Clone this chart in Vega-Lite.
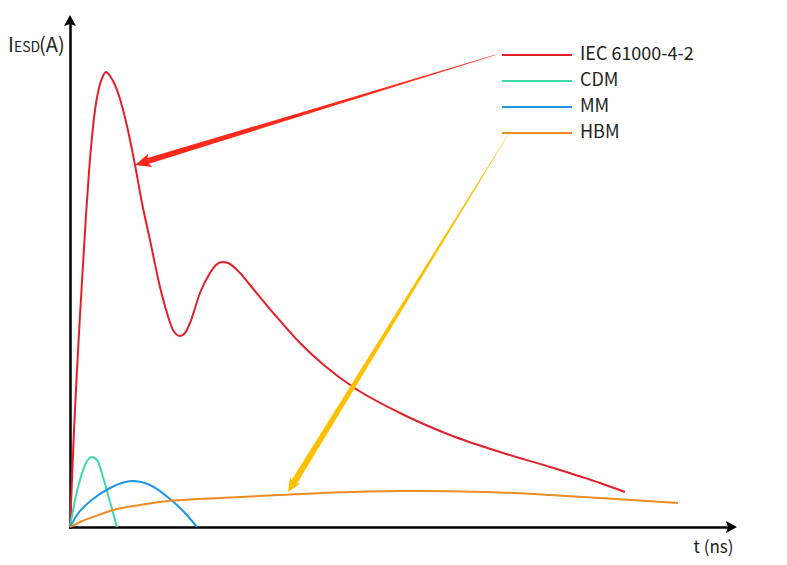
{
  "$schema": "https://vega.github.io/schema/vega-lite/v6.json",
  "width": 660,
  "height": 505,
  "autosize": {"type": "none"},
  "padding": {"left": 70, "top": 22, "right": 57, "bottom": 38},
  "background": "white",
  "config": {"view": {"stroke": null}, "font": "Noto Sans CJK SC"},
  "datasets": {
    "curves": [
      {"series": "IEC 61000-4-2", "t": 0, "i": 0},
      {"series": "IEC 61000-4-2", "t": 2, "i": 47},
      {"series": "IEC 61000-4-2", "t": 4, "i": 97},
      {"series": "IEC 61000-4-2", "t": 7, "i": 157},
      {"series": "IEC 61000-4-2", "t": 10, "i": 212},
      {"series": "IEC 61000-4-2", "t": 13, "i": 262},
      {"series": "IEC 61000-4-2", "t": 16, "i": 312},
      {"series": "IEC 61000-4-2", "t": 19, "i": 355},
      {"series": "IEC 61000-4-2", "t": 22, "i": 390},
      {"series": "IEC 61000-4-2", "t": 25, "i": 417},
      {"series": "IEC 61000-4-2", "t": 29, "i": 439},
      {"series": "IEC 61000-4-2", "t": 33, "i": 451},
      {"series": "IEC 61000-4-2", "t": 36, "i": 455},
      {"series": "IEC 61000-4-2", "t": 40, "i": 451},
      {"series": "IEC 61000-4-2", "t": 45, "i": 442},
      {"series": "IEC 61000-4-2", "t": 50, "i": 428},
      {"series": "IEC 61000-4-2", "t": 57, "i": 401},
      {"series": "IEC 61000-4-2", "t": 65, "i": 362},
      {"series": "IEC 61000-4-2", "t": 72, "i": 324},
      {"series": "IEC 61000-4-2", "t": 80, "i": 287},
      {"series": "IEC 61000-4-2", "t": 90, "i": 240},
      {"series": "IEC 61000-4-2", "t": 97, "i": 214},
      {"series": "IEC 61000-4-2", "t": 103, "i": 197},
      {"series": "IEC 61000-4-2", "t": 110, "i": 191},
      {"series": "IEC 61000-4-2", "t": 115, "i": 194},
      {"series": "IEC 61000-4-2", "t": 120, "i": 204},
      {"series": "IEC 61000-4-2", "t": 130, "i": 234},
      {"series": "IEC 61000-4-2", "t": 140, "i": 254},
      {"series": "IEC 61000-4-2", "t": 146, "i": 262},
      {"series": "IEC 61000-4-2", "t": 152, "i": 265},
      {"series": "IEC 61000-4-2", "t": 158, "i": 264},
      {"series": "IEC 61000-4-2", "t": 170, "i": 254},
      {"series": "IEC 61000-4-2", "t": 180, "i": 242},
      {"series": "IEC 61000-4-2", "t": 205, "i": 212},
      {"series": "IEC 61000-4-2", "t": 230, "i": 184},
      {"series": "IEC 61000-4-2", "t": 255, "i": 161},
      {"series": "IEC 61000-4-2", "t": 283, "i": 140},
      {"series": "IEC 61000-4-2", "t": 330, "i": 114},
      {"series": "IEC 61000-4-2", "t": 380, "i": 92},
      {"series": "IEC 61000-4-2", "t": 430, "i": 75},
      {"series": "IEC 61000-4-2", "t": 480, "i": 60},
      {"series": "IEC 61000-4-2", "t": 530, "i": 44},
      {"series": "IEC 61000-4-2", "t": 555, "i": 35},
      {"series": "CDM", "t": 0, "i": 0},
      {"series": "CDM", "t": 5, "i": 27},
      {"series": "CDM", "t": 10, "i": 47},
      {"series": "CDM", "t": 15, "i": 62},
      {"series": "CDM", "t": 22, "i": 70},
      {"series": "CDM", "t": 27, "i": 67},
      {"series": "CDM", "t": 33, "i": 50},
      {"series": "CDM", "t": 40, "i": 25},
      {"series": "CDM", "t": 47, "i": 0},
      {"series": "MM", "t": 0, "i": 0},
      {"series": "MM", "t": 7, "i": 12},
      {"series": "MM", "t": 23, "i": 28},
      {"series": "MM", "t": 40, "i": 39},
      {"series": "MM", "t": 62, "i": 46},
      {"series": "MM", "t": 80, "i": 42},
      {"series": "MM", "t": 100, "i": 28},
      {"series": "MM", "t": 115, "i": 14},
      {"series": "MM", "t": 127, "i": 0},
      {"series": "HBM", "t": 0, "i": 0},
      {"series": "HBM", "t": 10, "i": 5},
      {"series": "HBM", "t": 23, "i": 10},
      {"series": "HBM", "t": 43, "i": 17},
      {"series": "HBM", "t": 70, "i": 22},
      {"series": "HBM", "t": 90, "i": 25},
      {"series": "HBM", "t": 150, "i": 29},
      {"series": "HBM", "t": 210, "i": 32},
      {"series": "HBM", "t": 280, "i": 35},
      {"series": "HBM", "t": 330, "i": 36},
      {"series": "HBM", "t": 380, "i": 35.8},
      {"series": "HBM", "t": 430, "i": 34.5},
      {"series": "HBM", "t": 480, "i": 32},
      {"series": "HBM", "t": 530, "i": 29},
      {"series": "HBM", "t": 608, "i": 24}
    ],
    "shafts": [
      {"arrow": "IEC", "seq": 0, "t": 425, "i": 472, "k": 0},
      {"arrow": "IEC", "seq": 1, "t": 75, "i": 365.1, "k": 1},
      {"arrow": "HBM", "seq": 0, "t": 439, "i": 394, "k": 0},
      {"arrow": "HBM", "seq": 1, "t": 222.2, "i": 41.8, "k": 1}
    ],
    "heads": [
      {"arrow": "IEC", "t": 65, "i": 362},
      {"arrow": "HBM", "t": 218, "i": 35},
      {"arrow": "x", "t": 667, "i": 0},
      {"arrow": "y", "t": 0, "i": 512}
    ],
    "ylabel": [
      {"txt": "I", "kind": "main", "t": -62, "i": 475},
      {"txt": "ESD", "kind": "sub", "t": -56, "i": 475},
      {"txt": "(A)", "kind": "main", "t": -31, "i": 475}
    ]
  },
  "layer": [
    {
      "data": {"name": "curves"},
      "mark": {"type": "line", "interpolate": "monotone", "strokeWidth": 2},
      "encoding": {
        "x": {
          "field": "t", "type": "quantitative",
          "scale": {"domain": [0, 660], "nice": false, "zero": false},
          "axis": {
            "domain": true, "domainColor": "#000", "domainWidth": 2.5, "domainCap": "square",
            "ticks": false, "labels": false, "grid": false,
            "title": "t (ns)", "titleFontSize": 17, "titleFontWeight": "normal", "titleColor": "#222",
            "titleFont": "Noto Sans CJK SC",
            "titleX": 663, "titleY": 25, "titleAlign": "right", "titleBaseline": "alphabetic"
          }
        },
        "y": {
          "field": "i", "type": "quantitative",
          "scale": {"domain": [0, 505], "nice": false, "zero": false},
          "axis": {
            "domain": true, "domainColor": "#000", "domainWidth": 2.5, "domainCap": "square",
            "ticks": false, "labels": false, "grid": false, "title": null
          }
        },
        "color": {
          "field": "series", "type": "nominal",
          "scale": {
            "domain": ["IEC 61000-4-2", "CDM", "MM", "HBM"],
            "range": ["#E3202A", "#3ED9A8", "#1E97E6", "#EC8C22"]
          },
          "legend": {
            "orient": "none", "legendX": 431, "legendY": 20.5, "title": null, "padding": 0,
            "symbolType": "stroke", "symbolSize": 4900, "symbolStrokeWidth": 2,
            "labelFontSize": 18, "labelFont": "Noto Sans CJK SC", "labelColor": "#222",
            "labelOffset": 7, "rowPadding": 1, "clipHeight": 25
          }
        }
      }
    },
    {
      "data": {"name": "shafts"},
      "transform": [{"filter": "datum.arrow === 'IEC'"}],
      "mark": {"type": "trail", "color": "#FF2A1A"},
      "encoding": {
        "x": {"field": "t", "type": "quantitative"},
        "y": {"field": "i", "type": "quantitative"},
        "order": {"field": "seq"},
        "size": {"field": "k", "type": "quantitative", "scale": {"domain": [0, 1], "range": [0.4, 6]}, "legend": null}
      }
    },
    {
      "data": {"name": "heads"},
      "transform": [{"filter": "datum.arrow === 'IEC'"}],
      "mark": {"type": "point", "filled": true, "color": "#FF2A1A", "opacity": 1, "size": 400, "angle": 253,
               "shape": "M0,0L0.7,1.6L0,1.2L-0.7,1.6Z"},
      "encoding": {
        "x": {"field": "t", "type": "quantitative"},
        "y": {"field": "i", "type": "quantitative"}
      }
    },
    {
      "data": {"name": "shafts"},
      "transform": [{"filter": "datum.arrow === 'HBM'"}],
      "mark": {"type": "trail", "color": "#FFC000"},
      "encoding": {
        "x": {"field": "t", "type": "quantitative"},
        "y": {"field": "i", "type": "quantitative"},
        "order": {"field": "seq"},
        "size": {"field": "k", "type": "quantitative", "scale": {"domain": [0, 1], "range": [0.4, 6.5]}, "legend": null}
      }
    },
    {
      "data": {"name": "heads"},
      "transform": [{"filter": "datum.arrow === 'HBM'"}],
      "mark": {"type": "point", "filled": true, "color": "#FFC000", "opacity": 1, "size": 300, "angle": 211.7,
               "shape": "M0,0L0.7,1.6L0,1.2L-0.7,1.6Z"},
      "encoding": {
        "x": {"field": "t", "type": "quantitative"},
        "y": {"field": "i", "type": "quantitative"}
      }
    },
    {
      "data": {"name": "heads"},
      "transform": [{"filter": "datum.arrow === 'x'"}],
      "mark": {"type": "point", "filled": true, "color": "#000", "opacity": 1, "size": 400, "angle": 90,
               "shape": "M0,0L0.6,1.1L0,0.9L-0.6,1.1Z"},
      "encoding": {
        "x": {"field": "t", "type": "quantitative"},
        "y": {"field": "i", "type": "quantitative"}
      }
    },
    {
      "data": {"name": "heads"},
      "transform": [{"filter": "datum.arrow === 'y'"}],
      "mark": {"type": "point", "filled": true, "color": "#000", "opacity": 1, "size": 400, "angle": 0,
               "shape": "M0,0L0.6,1.1L0,0.9L-0.6,1.1Z"},
      "encoding": {
        "x": {"field": "t", "type": "quantitative"},
        "y": {"field": "i", "type": "quantitative"}
      }
    },
    {
      "data": {"name": "ylabel"},
      "transform": [{"filter": "datum.kind === 'main'"}],
      "mark": {"type": "text", "align": "left", "baseline": "alphabetic", "fontSize": 20, "font": "Noto Sans CJK SC", "color": "#222"},
      "encoding": {
        "x": {"field": "t", "type": "quantitative"},
        "y": {"field": "i", "type": "quantitative"},
        "text": {"field": "txt"}
      }
    },
    {
      "data": {"name": "ylabel"},
      "transform": [{"filter": "datum.kind === 'sub'"}],
      "mark": {"type": "text", "align": "left", "baseline": "alphabetic", "fontSize": 14, "font": "Noto Sans CJK SC", "color": "#222"},
      "encoding": {
        "x": {"field": "t", "type": "quantitative"},
        "y": {"field": "i", "type": "quantitative"},
        "text": {"field": "txt"}
      }
    }
  ],
  "resolve": {"scale": {"size": "independent"}}
}
